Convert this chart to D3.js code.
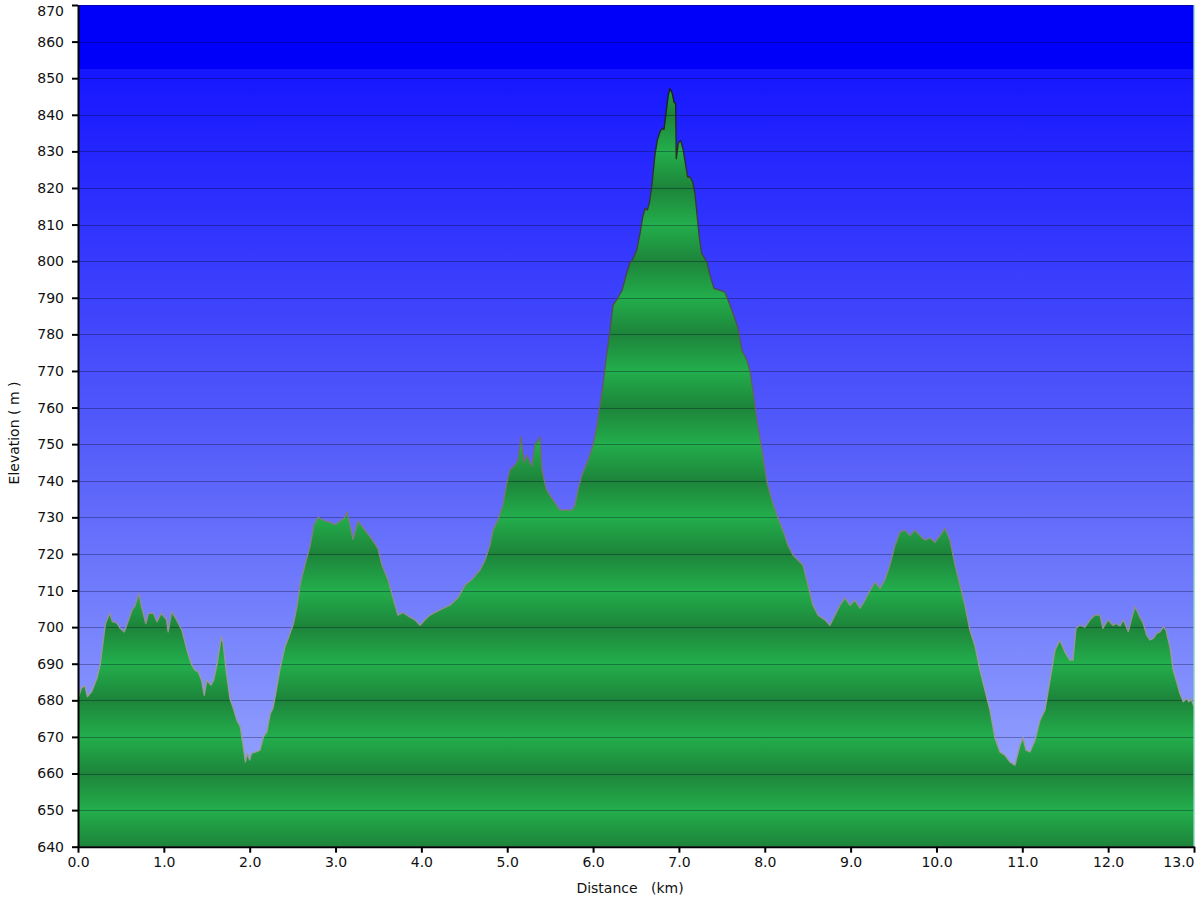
<!DOCTYPE html>
<html>
<head>
<meta charset="utf-8">
<script src="https://cdn.jsdelivr.net/npm/d3@7"></script>
<style>
  html, body { margin: 0; padding: 0; background: #ffffff; }
  svg { display: block; }
  text { font-family: "DejaVu Sans", Verdana, sans-serif; }
</style>
</head>
<body>
<svg id="chart" width="1200" height="900"></svg>
<script>
// ---- data ----
const distancesKm = [
  0.00,0.04,0.08,0.11,0.16,0.22,0.26,0.29,0.32,0.37,0.40,0.45,0.49,0.54,0.59,0.63,0.66,0.71,0.74,0.79,
  0.82,0.88,0.92,0.97,1.03,1.05,1.09,1.13,1.17,1.21,1.27,1.32,1.36,1.40,1.44,1.47,1.50,1.55,1.58,1.62,
  1.67,1.69,1.73,1.77,1.81,1.85,1.89,1.92,1.95,1.97,2.00,2.02,2.08,2.12,2.16,2.20,2.24,2.27,2.31,2.35,
  2.41,2.47,2.51,2.55,2.59,2.644,2.702,2.749,2.796,2.877,2.935,2.994,3.052,3.110,3.133,3.168,3.203,3.262,3.343,3.425,
  3.494,3.541,3.611,3.669,3.727,3.786,3.867,3.925,3.984,4.042,4.100,4.217,4.333,4.426,4.508,4.589,4.683,4.741,4.799,4.834,
  4.892,4.950,4.997,5.032,5.091,5.125,5.160,5.195,5.230,5.265,5.288,5.323,5.358,5.382,5.405,5.451,5.498,5.556,5.614,5.673,
  5.754,5.789,5.824,5.871,5.941,5.999,6.045,6.080,6.115,6.150,6.197,6.232,6.290,6.337,6.383,6.430,6.450,6.508,6.547,6.578,
  6.605,6.632,6.655,6.683,6.722,6.748,6.780,6.806,6.826,6.849,6.876,6.896,6.923,6.942,6.962,6.969,6.992,7.020,7.050,7.082,
  7.101,7.128,7.160,7.187,7.214,7.237,7.265,7.280,7.327,7.362,7.408,7.478,7.536,7.595,7.641,7.688,7.734,7.792,7.827,7.862,
  7.909,7.967,8.026,8.084,8.142,8.212,8.270,8.329,8.387,8.445,8.503,8.562,8.620,8.701,8.759,8.818,8.876,8.934,8.992,9.051,
  9.109,9.167,9.225,9.284,9.342,9.400,9.458,9.517,9.575,9.633,9.691,9.750,9.808,9.866,9.924,9.983,10.041,10.099,10.157,10.216,
  10.274,10.332,10.390,10.448,10.507,10.565,10.623,10.681,10.740,10.798,10.856,10.914,10.973,11.008,11.043,11.089,11.147,11.206,11.264,11.322,
  11.380,11.439,11.497,11.555,11.590,11.625,11.672,11.730,11.788,11.846,11.905,11.940,11.998,12.056,12.091,12.138,12.177,12.207,12.234,12.274,
  12.312,12.332,12.370,12.409,12.449,12.487,12.526,12.565,12.604,12.643,12.673,12.720,12.758,12.798,12.836,12.875,12.914,12.941,12.964,13.00
];
const elevationsM = [
  680.5,683.4,684,681,682.4,686,690,695.6,701,703.8,701.5,701.2,699.7,698.7,702,704.7,705.6,709.2,705.6,701,
  703.8,703.8,701.5,703.8,702.1,698.7,704.2,702.8,701,699.2,693.7,690,688.3,687.8,685.5,681.4,685.5,684.2,685.5,690,
  697.4,695.6,687.4,680.5,677.8,674.6,672.8,668.3,663.2,665.5,663.7,665.5,666,666.4,670,671.4,676.4,677.8,682.8,688.3,
  694.6,698.3,701,705.6,712,717,722,728,730,729,728.7,728,729,730,731.5,728,724,729,726.5,724,
  721.5,717,713,708,703.3,704,702.7,702,700.5,702,703.3,704.7,706,708,711.5,713,715.6,718.3,722.4,726.5,
  729.3,733.4,739.6,743,744.3,745.6,752,745,747,745,744,750,751,752,743,738,736,734,732,732,
  732,733.4,737.5,741.6,745.6,749.7,755,760.6,766,773,781,788,790,792,796,799.7,800,803,807.6,812.1,
  814.4,814,815.8,820.3,829.4,833,835.4,836.3,836,840.4,845.4,847.2,845.8,843.5,843,828,832.2,833,830.4,825.8,
  823,823,821.7,818.5,812.1,806.7,802.1,801.6,799.7,796.2,792.6,792,791.6,788,785,781.8,775.7,773,770,764.8,
  756.6,748.4,739.6,734.7,730.6,726.5,722.4,719.7,718.3,717,711.5,706,703.3,702,700.5,703.3,706,708,706,707.4,
  705.2,707.4,710,712.3,710.6,713,717,722.4,726,726.5,725,726.5,725,723.8,724.4,723.2,725,727,723.8,717,
  711.5,706,699.2,695,688.3,682.8,677.4,669.8,665.9,665,663.2,662.3,667.8,669.8,666.4,665.9,669,674.6,677.4,685.5,
  693.7,696.4,693.2,691,691,699.7,700.5,700,702,703.3,703.3,699.7,702,700.5,701,700.3,702,700.3,698.8,702.4,
  705.6,704.7,702.8,701,697.8,696.5,696.9,698.3,698.7,700.1,699.2,694.6,688.3,685.1,681.9,679.6,680.5,679.6,680.5,678.3
];
const xTickValues = [0,1,2,3,4,5,6,7,8,9,10,11,12,13];
const yTickValues = [640,650,660,670,680,690,700,710,720,730,740,750,760,770,780,790,800,810,820,830,840,850,860,870];
const xDomain = [0, 13];
const yDomain = [640, 870];
const xTitle = "Distance   (km)";
const yTitle = "Elevation ( m )";

// ---- layout ----
const L = 78, R = 1194, T = 5, B = 846.7;
const svg = d3.select("#chart");
const x = d3.scaleLinear().domain(xDomain).range([L, R]);
const y = d3.scaleLinear().domain(yDomain).range([B, T]);
const data = distancesKm.map((d, i) => ({ d, e: elevationsM[i] }));

const defs = svg.append("defs");
// sky gradient
const sky = defs.append("linearGradient").attr("id", "sky")
  .attr("gradientUnits", "userSpaceOnUse")
  .attr("x1", 0).attr("x2", 0).attr("y1", y(852.5)).attr("y2", B);
sky.append("stop").attr("offset", 0).attr("stop-color", "rgb(22,22,255)");
sky.append("stop").attr("offset", 0.5).attr("stop-color", "rgb(88,96,250)");
sky.append("stop").attr("offset", 1).attr("stop-color", "rgb(160,176,255)");

// ground banded gradient (period 20 m)
const ground = defs.append("linearGradient").attr("id", "ground")
  .attr("gradientUnits", "userSpaceOnUse")
  .attr("spreadMethod", "repeat")
  .attr("x1", 0).attr("x2", 0).attr("y1", y(660)).attr("y2", y(640));
ground.append("stop").attr("offset", 0).attr("stop-color", "rgb(29,132,58)");
ground.append("stop").attr("offset", 0.5).attr("stop-color", "rgb(35,174,76)");
ground.append("stop").attr("offset", 1).attr("stop-color", "rgb(29,132,58)");

// outline gradient (grey low, dark high)
const outline = defs.append("linearGradient").attr("id", "outline")
  .attr("gradientUnits", "userSpaceOnUse")
  .attr("x1", 0).attr("x2", 0).attr("y1", y(850)).attr("y2", y(690));
outline.append("stop").attr("offset", 0).attr("stop-color", "#1a1a1a");
outline.append("stop").attr("offset", 0.35).attr("stop-color", "#4a4a4a");
outline.append("stop").attr("offset", 1).attr("stop-color", "#9a9a9a");

defs.append("clipPath").attr("id", "plotclip")
  .append("rect").attr("x", L).attr("y", T).attr("width", R - L).attr("height", B - T);

const plot = svg.append("g").attr("clip-path", "url(#plotclip)");
plot.append("rect").attr("x", L).attr("y", T).attr("width", R - L).attr("height", B - T)
  .attr("fill", "url(#sky)");
plot.append("rect").attr("x", L).attr("y", T).attr("width", R - L).attr("height", y(852.5) - T)
  .attr("fill", "rgb(0,0,250)");

const area = d3.area().x(p => x(p.d)).y0(B).y1(p => y(p.e));
const line = d3.line().x(p => x(p.d)).y(p => y(p.e));
plot.append("path").datum(data).attr("d", area).attr("fill", "url(#ground)");

// gridlines
plot.append("g").selectAll("line").data(yTickValues).join("line")
  .attr("x1", L).attr("x2", R)
  .attr("y1", d => Math.round(y(d)) + 0.5).attr("y2", d => Math.round(y(d)) + 0.5)
  .attr("stroke", "rgba(0,0,30,0.32)").attr("stroke-width", 1);

plot.append("path").datum(data).attr("d", line)
  .attr("fill", "none").attr("stroke", "url(#outline)").attr("stroke-width", 1.4)
  .attr("stroke-linejoin", "round");

// right edge line
svg.append("line").attr("x1", R).attr("x2", R).attr("y1", T).attr("y2", B)
  .attr("stroke", "rgba(130,215,185,0.9)").attr("stroke-width", 1.5);

// axes
const yAxis = d3.axisLeft(y).tickValues(yTickValues).tickFormat(d3.format("d"))
  .tickSize(6).tickSizeOuter(0).tickPadding(8);
const gy = svg.append("g").attr("transform", `translate(${L},0)`).call(yAxis);
gy.select(".domain").attr("stroke", "#000").attr("stroke-width", 2);
gy.selectAll(".tick line").attr("stroke", "#000").attr("stroke-width", 2);
gy.selectAll(".tick text").attr("font-size", 14).attr("fill", "#111")
  .attr("font-family", "'DejaVu Sans', Verdana, sans-serif");
gy.selectAll(".tick text").filter(d => d === yDomain[1]).attr("dy", "0.32em").attr("y", 6);

const xAxis = d3.axisBottom(x).tickValues(xTickValues).tickFormat(d3.format(".1f"))
  .tickSize(6).tickSizeOuter(0).tickPadding(4);
const gx = svg.append("g").attr("transform", `translate(0,${B})`).call(xAxis);
gx.select(".domain").attr("stroke", "#000").attr("stroke-width", 2);
gx.selectAll(".tick line").attr("stroke", "#000").attr("stroke-width", 2);
gx.selectAll(".tick text").attr("font-size", 14).attr("fill", "#111")
  .attr("font-family", "'DejaVu Sans', Verdana, sans-serif");
// last label kept inside the picture (right-aligned to its tick, as in the reference)
gx.selectAll(".tick text").filter(d => d === xDomain[1])
  .attr("text-anchor", "end").attr("x", 0);

// titles
svg.append("text").text(xTitle)
  .attr("x", 630).attr("y", 893).attr("text-anchor", "middle")
  .attr("font-size", 14).attr("fill", "#111").style("white-space", "pre");
svg.append("text").text(yTitle)
  .attr("transform", "translate(19,433) rotate(-90)").attr("text-anchor", "middle")
  .attr("font-size", 14).attr("fill", "#111").style("white-space", "pre");
</script>
</body>
</html>
